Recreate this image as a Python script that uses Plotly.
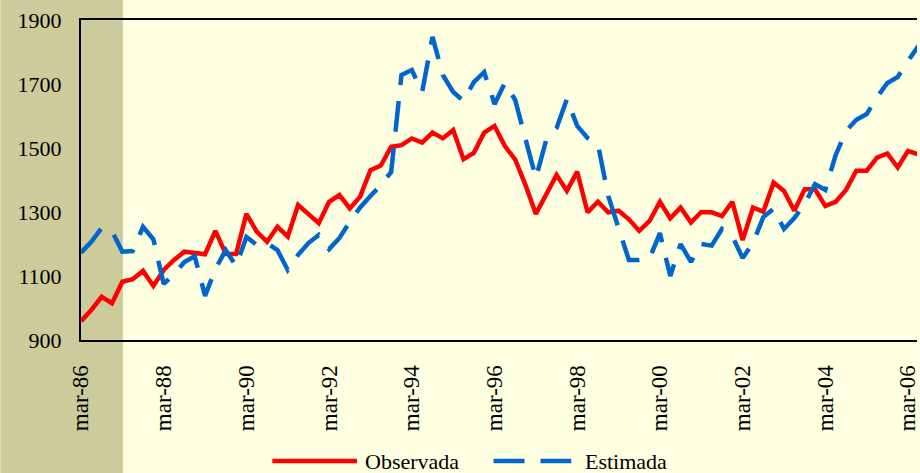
import plotly.graph_objects as go

# Quarterly periods, March 1986 onwards
months = ["mar", "jun", "sep", "dic"]
years = list(range(86, 100)) + list(range(0, 7))
quarters = [f"{m}-{y:02d}" for y in years for m in months][:82]
tick_labels = quarters[::8]

observada = [
    959, 994, 1035, 1015, 1082, 1090, 1116, 1069, 1119, 1150,
    1176, 1171, 1168, 1241, 1169, 1169, 1294, 1239, 1207, 1254,
    1223, 1322, 1293, 1265, 1332, 1353, 1311, 1348, 1431, 1445,
    1504, 1509, 1530, 1517, 1548, 1530, 1556, 1465, 1485, 1548,
    1569, 1506, 1464, 1384, 1294, 1353, 1416, 1366, 1426, 1299,
    1332, 1299, 1304, 1277, 1241, 1272, 1332, 1280, 1314, 1267,
    1300, 1299, 1287, 1332, 1212, 1314, 1301, 1392, 1366, 1304,
    1371, 1371, 1319, 1332, 1369, 1429, 1429, 1470, 1483, 1439,
    1491, 1480,
]

estimada = [
    1173, 1207, 1250, 1240, 1176, 1178, 1254, 1215, 1075, 1106,
    1144, 1162, 1038, 1122, 1181, 1131, 1222, 1197, 1203, 1181,
    1119, 1166, 1203, 1228, 1184, 1219, 1269, 1314, 1350, 1384,
    1425, 1728, 1744, 1675, 1847, 1728, 1675, 1647, 1706, 1737,
    1637, 1703, 1650, 1528, 1406, 1525, 1562, 1653, 1569, 1531,
    1512, 1350, 1253, 1150, 1150, 1155, 1234, 1100, 1200, 1144,
    1200, 1195, 1247, 1225, 1156, 1203, 1284, 1310, 1247, 1281,
    1325, 1387, 1369, 1478, 1553, 1588, 1606, 1659, 1703, 1722,
    1772, 1819,
]

RED = "#FF0000"
BLUE = "#0066CC"
BG = "#FFFFE1"
BAND = "#CBCB9B"
FONT = "Liberation Serif"

fig = go.Figure()
fig.add_trace(go.Scatter(x=quarters, y=observada, mode="lines", name="Observada",
                         line=dict(color=RED, width=4.5), showlegend=False))
fig.add_trace(go.Scatter(x=quarters, y=estimada, mode="lines", name="Estimada",
                         line=dict(color=BLUE, width=4.5, dash="31px,16px"),
                         showlegend=False))

W, H = 920, 473
L, T, B = 81, 20, 133
pw, ph = W - L, H - T - B


def px(x):
    return (x - L) / pw


def py(y):
    return (H - B - y) / ph


shapes = [
    # olive band at the left edge
    dict(type="rect", xref="paper", yref="paper", x0=px(0), x1=px(123),
         y0=py(H), y1=py(0), fillcolor=BAND, line=dict(width=0), layer="below"),
    # legend samples
    dict(type="line", xref="paper", yref="paper", x0=px(273), x1=px(358),
         y0=py(461), y1=py(461), line=dict(color=RED, width=4.5)),
    dict(type="line", xref="paper", yref="paper", x0=px(495), x1=px(573),
         y0=py(461), y1=py(461), line=dict(color=BLUE, width=4.5, dash="31px,16px")),
]

annotations = [
    dict(text="Observada", xref="paper", yref="paper", x=px(364), y=py(461),
         xanchor="left", yanchor="middle", showarrow=False,
         font=dict(family=FONT, size=22, color="black")),
    dict(text="Estimada", xref="paper", yref="paper", x=px(585), y=py(461),
         xanchor="left", yanchor="middle", showarrow=False,
         font=dict(family=FONT, size=22, color="black")),
]

fig.update_layout(
    width=W, height=H,
    margin=dict(l=L, r=0, t=T, b=B, pad=0),
    paper_bgcolor=BG, plot_bgcolor=BG,
    font=dict(family=FONT, size=22, color="black"),
    shapes=shapes, annotations=annotations,
    showlegend=False,
)
fig.update_xaxes(
    type="category", range=[0, (W - L) / 10.375],
    tickmode="array", tickvals=tick_labels, ticktext=tick_labels,
    tickangle=-90, ticks="outside", ticklen=14, tickcolor="rgba(0,0,0,0)",
    tickfont=dict(size=23),
    showgrid=False, zeroline=False,
    showline=True, linecolor="black", linewidth=2, mirror=True,
)
fig.update_yaxes(
    range=[900, 1900], tickvals=[900, 1100, 1300, 1500, 1700, 1900],
    ticks="outside", ticklen=13, tickcolor="rgba(0,0,0,0)",
    showgrid=False, zeroline=False,
    showline=True, linecolor="black", linewidth=2,
)

fig.write_html("out.html")
